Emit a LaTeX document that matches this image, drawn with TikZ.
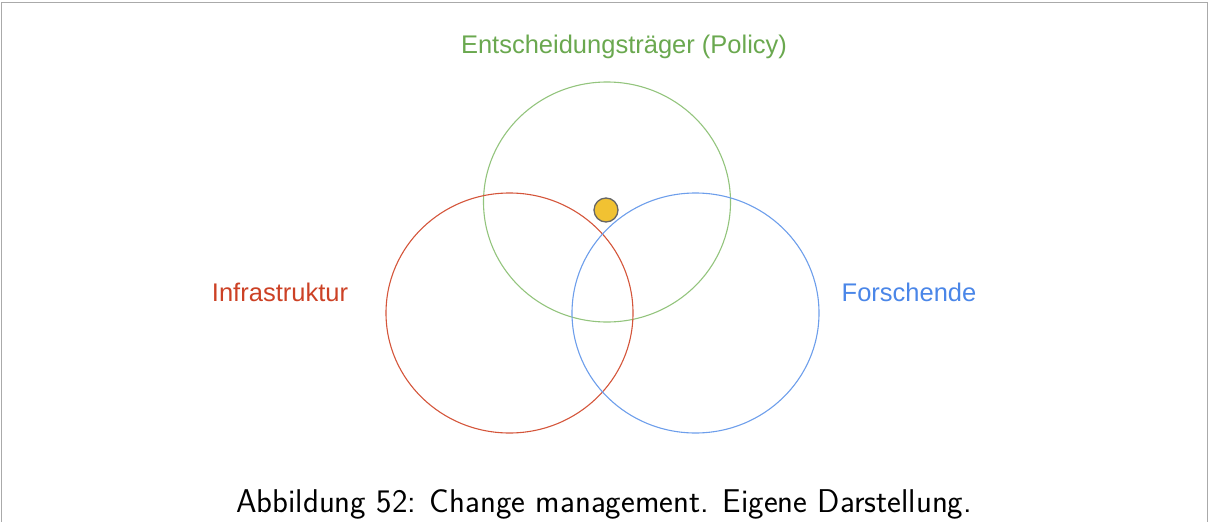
\documentclass[tikz,border=0pt]{standalone}
\usepackage{fontspec}
\newfontfamily\labelfont{Liberation Sans}
\usetikzlibrary{shapes.geometric,positioning}

\definecolor{policygreen}{HTML}{6AA84F}
\definecolor{policyring}{HTML}{93C47D}
\definecolor{infrared}{HTML}{CC4125}
\definecolor{inforing}{HTML}{D4553A}
\definecolor{researchblue}{HTML}{4A86E8}
\definecolor{researchring}{HTML}{6D9EEB}
\definecolor{dotyellow}{HTML}{F1C232}
\definecolor{framegray}{HTML}{AAAAAA}

\begin{document}
\begin{tikzpicture}[x=1pt, y=-1pt,
    ring/.style={draw, ellipse, line width=1.1pt, minimum width=247pt, minimum height=240pt, inner sep=0pt},
    tag/.style={font=\labelfont\fontsize{25.5}{30}\selectfont, anchor=base, inner sep=0pt}
]
    \useasboundingbox (0,0) rectangle (1209,522);
    \draw[framegray, line width=1.5pt] (1.5,522) -- (1.5,2.5) -- (1207.5,2.5) -- (1207.5,522);

    \node[ring, policyring] (policy) at (607,202) {};
    \node[ring, inforing] (infra) at (509.5,313) {};
    \node[ring, researchring] (research) at (695.5,313) {};

    \node[tag, text=policygreen] (policylabel) at (624,53) {Entscheidungsträger (Policy)};
    \node[tag, text=infrared] (infralabel) at (280,301) {Infrastruktur};
    \node[tag, text=researchblue] (researchlabel) at (909,301) {Forschende};

    \node[circle, draw=black!60, fill=dotyellow, line width=1.3pt, minimum size=24pt, inner sep=0pt] (change) at (606,210) {};

    \node[font=\sffamily\fontsize{32.9}{38}\selectfont, anchor=base, inner sep=0pt] (caption) at (604,512) {Abbildung 52: Change management. Eigene Darstellung.};
\end{tikzpicture}
\end{document}
